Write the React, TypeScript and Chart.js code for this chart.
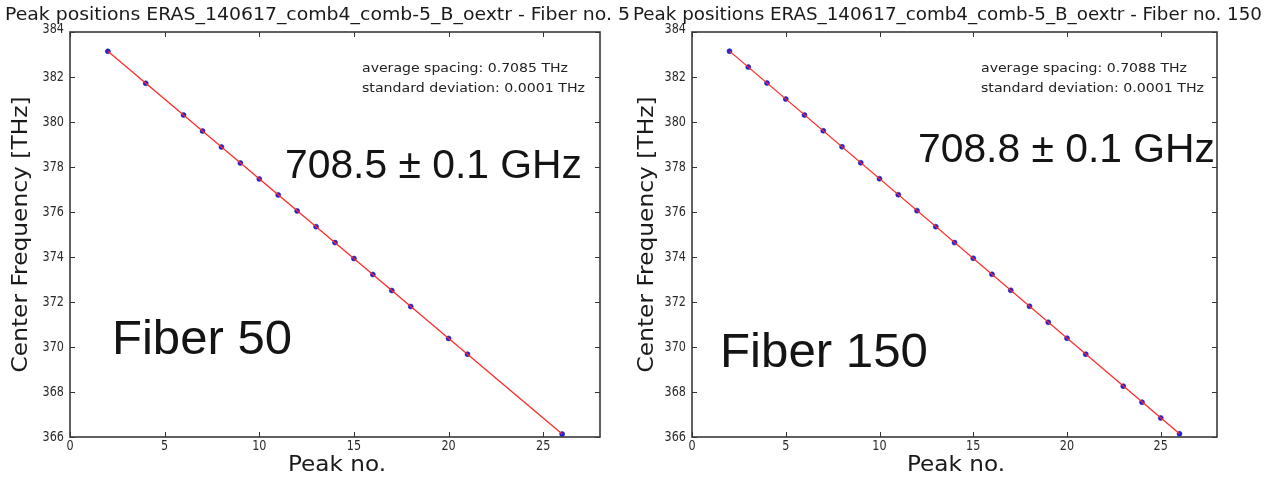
import React, { useEffect, useRef } from "react";
import { Chart, registerables } from "chart.js";

Chart.register(...registerables);

// ---- Data ----
const fiber50Peaks = [2, 4, 6, 7, 8, 9, 10, 11, 12, 13, 14, 15, 16, 17, 18, 20, 21, 26];
const fiber50Freqs = [
  383.14, 381.72, 380.31, 379.6, 378.89, 378.18, 377.47, 376.76, 376.05, 375.35,
  374.64, 373.93, 373.22, 372.51, 371.8, 370.38, 369.68, 366.13,
];
const fiber50FitX = [2, 26];
const fiber50FitY = [383.14, 366.13];

const fiber150Peaks = [2, 3, 4, 5, 6, 7, 8, 9, 10, 11, 12, 13, 14, 15, 16, 17, 18, 19, 20, 21, 23, 24, 25, 26];
const fiber150Freqs = [
  383.15, 382.44, 381.73, 381.02, 380.31, 379.61, 378.9, 378.19, 377.48, 376.77,
  376.06, 375.35, 374.64, 373.94, 373.23, 372.52, 371.81, 371.1, 370.39, 369.68,
  368.26, 367.55, 366.85, 366.14,
];
const fiber150FitX = [2, 26];
const fiber150FitY = [383.15, 366.14];

const titles = [
  "Peak positions ERAS_140617_comb4_comb-5_B_oextr - Fiber no. 5",
  "Peak positions ERAS_140617_comb4_comb-5_B_oextr - Fiber no. 150",
];
const spacingLabels = ["average spacing: 0.7085 THz", "average spacing: 0.7088 THz"];
const deviationLabels = ["standard deviation: 0.0001 THz", "standard deviation: 0.0001 THz"];
const spacingBig = ["708.5 \u00b1 0.1 GHz", "708.8 \u00b1 0.1 GHz"];
const fiberNames = ["Fiber 50", "Fiber 150"];
const xAxisTitle = "Peak no.";
const yAxisTitle = "Center Frequency [THz]";
const xMin = 0, xMax = 28, xStep = 5;
const yMin = 366, yMax = 384, yStep = 2;

const DJ = '"DejaVu Sans", "Liberation Sans", sans-serif';
const AR = '"Liberation Sans", Arial, sans-serif';

type Layout = {
  left: number; width: number; yWidth: number; rightPad: number;
  title: { x: number; w: number };
  yTitle: { x: number };
  xTitle: { x: number };
  small: { x: number };
  big: { x: number; y: number };
  fiber: { x: number; y: number; w: number };
};

const layouts: Layout[] = [
  {
    left: 0, width: 635, yWidth: 70, rightPad: 35,
    title: { x: 5, w: 625 },
    yTitle: { x: 22 },
    xTitle: { x: 337 },
    small: { x: 362 },
    big: { x: 285, y: 178 },
    fiber: { x: 112, y: 354, w: 180 },
  },
  {
    left: 630, width: 639, yWidth: 62, rightPad: 52,
    title: { x: 3, w: 629 },
    yTitle: { x: 18 },
    xTitle: { x: 326 },
    small: { x: 351 },
    big: { x: 288, y: 162 },
    fiber: { x: 90, y: 367, w: 208 },
  },
];

function drawFit(
  ctx: CanvasRenderingContext2D, text: string, x: number, y: number, targetW: number,
  font: string, align: "left" | "center" = "left", baseline: CanvasTextBaseline = "alphabetic",
  rotate = false
) {
  ctx.save();
  ctx.font = font;
  const w = ctx.measureText(text).width;
  const sx = targetW / w;
  ctx.translate(x, y);
  if (rotate) ctx.rotate(-Math.PI / 2);
  ctx.scale(sx, 1);
  ctx.textAlign = align;
  ctx.textBaseline = baseline;
  ctx.fillText(text, 0, 0);
  ctx.restore();
}

function drawCondensed(
  ctx: CanvasRenderingContext2D, text: string, x: number, y: number, factor: number,
  align: CanvasTextAlign, baseline: CanvasTextBaseline
) {
  ctx.save();
  ctx.translate(x, y);
  ctx.scale(factor, 1);
  ctx.textAlign = align;
  ctx.textBaseline = baseline;
  ctx.fillText(text, 0, 0);
  ctx.restore();
}

function Panel({ idx }: { idx: number }) {
  const ref = useRef<HTMLCanvasElement | null>(null);
  useEffect(() => {
    const L = layouts[idx];
    const peaks = idx === 0 ? fiber50Peaks : fiber150Peaks;
    const freqs = idx === 0 ? fiber50Freqs : fiber150Freqs;
    const fx = idx === 0 ? fiber50FitX : fiber150FitX;
    const fy = idx === 0 ? fiber50FitY : fiber150FitY;

    const overlay = {
      id: "mplOverlay",
      afterDraw(chart: any) {
        const ctx: CanvasRenderingContext2D = chart.ctx;
        const a = chart.chartArea;
        const xs = chart.scales.x;
        const ys = chart.scales.y;
        ctx.save();
        // inward ticks
        ctx.strokeStyle = "#333";
        ctx.lineWidth = 1;
        ctx.beginPath();
        xs.ticks.forEach((t: any) => {
          const px = Math.round(xs.getPixelForValue(t.value)) + 0.5;
          ctx.moveTo(px, a.bottom); ctx.lineTo(px, a.bottom - 5);
          ctx.moveTo(px, a.top); ctx.lineTo(px, a.top + 5);
        });
        ys.ticks.forEach((t: any) => {
          const py = Math.round(ys.getPixelForValue(t.value)) + 0.5;
          ctx.moveTo(a.left, py); ctx.lineTo(a.left + 5, py);
          ctx.moveTo(a.right, py); ctx.lineTo(a.right - 5, py);
        });
        ctx.stroke();
        // frame
        ctx.strokeStyle = "#3a3a3a";
        ctx.lineWidth = 1.6;
        ctx.strokeRect(a.left, a.top, a.right - a.left, a.bottom - a.top);

        // tick labels (matplotlib-like, slightly condensed)
        ctx.fillStyle = "#2a2a2a";
        ctx.font = `14px ${DJ}`;
        xs.ticks.forEach((t: any) => {
          const px = xs.getPixelForValue(t.value);
          drawCondensed(ctx, String(t.label), px, a.bottom + 2, 0.8, "center", "top");
        });
        ys.ticks.forEach((t: any) => {
          const py = ys.getPixelForValue(t.value);
          drawCondensed(ctx, String(t.label), a.left - 6, py + (t.value === yMax ? -3 : 0), 0.8, "right", "middle");
        });

        ctx.fillStyle = "#1a1a1a";
        // title
        drawFit(ctx, titles[idx], L.title.x, 20, L.title.w, `17.5px ${DJ}`);
        // axis titles
        drawFit(ctx, yAxisTitle, L.yTitle.x, (a.top + a.bottom) / 2, 276, `21px ${DJ}`, "center", "middle", true);
        drawFit(ctx, xAxisTitle, L.xTitle.x, 466, 98, `21px ${DJ}`, "center", "middle");
        // small annotations
        ctx.fillStyle = "#222";
        drawFit(ctx, spacingLabels[idx], L.small.x, 72, 206, `12.5px ${DJ}`);
        drawFit(ctx, deviationLabels[idx], L.small.x, 92, 223, `12.5px ${DJ}`);
        // big annotations
        ctx.fillStyle = "#141414";
        drawFit(ctx, spacingBig[idx], L.big.x, L.big.y, 297, `41px ${AR}`);
        drawFit(ctx, fiberNames[idx], L.fiber.x, L.fiber.y, L.fiber.w, `48px ${AR}`);
        ctx.restore();
      },
    };

    const chart = new Chart(ref.current as HTMLCanvasElement, {
      type: "scatter",
      data: {
        datasets: [
          {
            type: "line",
            data: fx.map((x, i) => ({ x, y: fy[i] })),
            borderColor: "#ff2a2a",
            borderWidth: 1.3,
            pointRadius: 0,
            tension: 0,
            order: 0,
          } as any,
          {
            type: "scatter",
            data: peaks.map((x, i) => ({ x, y: freqs[i] })),
            backgroundColor: "#1f1fe0",
            borderColor: "#2a2aa0",
            borderWidth: 0.6,
            pointRadius: 2.5,
            order: 1,
          },
        ],
      },
      options: {
        animation: false,
        responsive: false,
        events: [],
        layout: { padding: { top: 32, right: L.rightPad, left: 0, bottom: 0 } },
        plugins: { legend: { display: false }, tooltip: { enabled: false }, title: { display: false } },
        scales: {
          x: {
            type: "linear",
            min: xMin,
            max: xMax,
            grid: { display: false, drawTicks: false },
            border: { display: false },
            ticks: {
              display: false,
              stepSize: xStep,
              includeBounds: false,
              autoSkip: false,
            },
            afterFit: (s: any) => { s.height = 46; },
          },
          y: {
            type: "linear",
            min: yMin,
            max: yMax,
            grid: { display: false, drawTicks: false },
            border: { display: false },
            ticks: {
              display: false,
              stepSize: yStep,
              autoSkip: false,
            },
            afterFit: (s: any) => { s.width = L.yWidth; },
          },
        },
      },
      plugins: [overlay],
    });
    return () => chart.destroy();
  }, [idx]);

  const L = layouts[idx];
  return (
    <canvas
      ref={ref}
      width={L.width}
      height={483}
      style={{ position: "absolute", left: L.left, top: 0, width: L.width, height: 483 }}
    />
  );
}

export default function App() {
  return (
    <div style={{ position: "fixed", left: 0, top: 0, width: 1269, height: 483, background: "#fff", overflow: "hidden" }}>
      <Panel idx={0} />
      <Panel idx={1} />
    </div>
  );
}
